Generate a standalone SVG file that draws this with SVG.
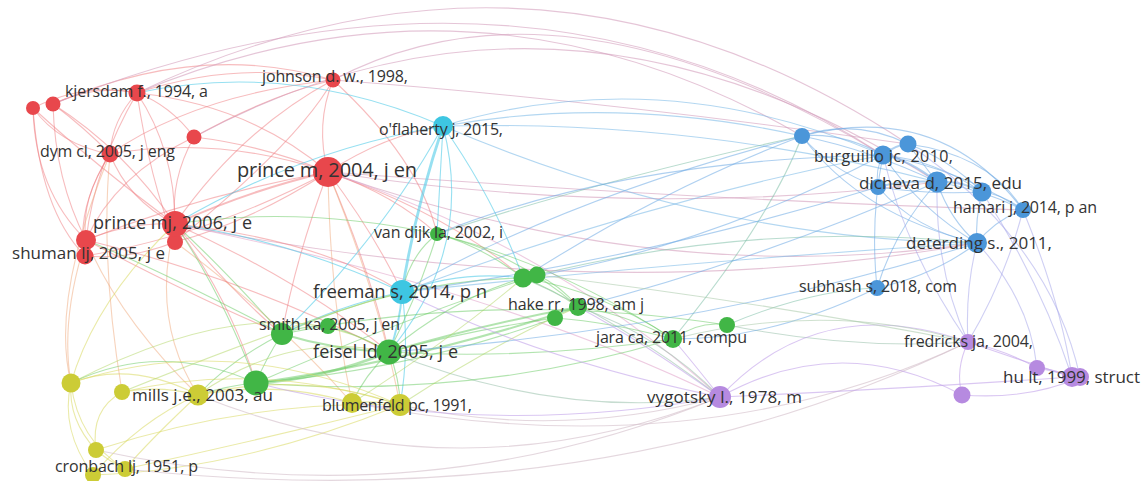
<svg xmlns="http://www.w3.org/2000/svg" width="1145" height="481" viewBox="0 0 1145 481">
<style>
#connectors path{fill:none;stroke-width:1.1;stroke-linecap:round}
.er{stroke:#f07a7d;stroke-opacity:.5}
.erb{stroke:#d49fbd;stroke-opacity:.6}
.erp{stroke:#e0a0c8;stroke-opacity:.55}
.ery{stroke:#f0a87a;stroke-opacity:.5}
.ec{stroke:#52cce8;stroke-opacity:.6}
.ecb{stroke:#74b6e6;stroke-opacity:.55}
.eg{stroke:#66c960;stroke-opacity:.5}
.egb{stroke:#80bfa8;stroke-opacity:.55}
.egp{stroke:#a0c4b0;stroke-opacity:.6}
.ey{stroke:#d8d860;stroke-opacity:.55}
.eyp{stroke:#d6c2cc;stroke-opacity:.65}
.eyg{stroke:#b0d660;stroke-opacity:.5}
.eb{stroke:#6eaae4;stroke-opacity:.55}
.ebp{stroke:#a8a8ea;stroke-opacity:.55}
.ep{stroke:#c2a2ea;stroke-opacity:.6}
.epg{stroke:#a8c8a8;stroke-opacity:.55}
#connectors .t2{stroke-width:2}
#connectors .t3{stroke-width:2.8}
.nr{fill:#e8474c}.nc{fill:#3ec6e2}.ng{fill:#41b646}.ny{fill:#cccc36}.nb{fill:#4b96d9}.np{fill:#b68ae0}
text{font-family:"Open Sans","DejaVu Sans",sans-serif;fill:#333;font-size:16px}
</style>
<rect width="1145" height="481" fill="#fff"/>
<g id="connectors">
<path class="er" d="M33,108 Q85,82 137,93"/>
<path class="er" d="M53,104 Q95,84 137,93"/>
<path class="er" d="M33,108 Q60,145 110,154"/>
<path class="er" d="M53,104 Q85,128 110,154"/>
<path class="er" d="M33,108 Q35,190 86,240"/>
<path class="er" d="M53,104 Q55,180 86,240"/>
<path class="er" d="M33,108 Q95,165 175,224"/>
<path class="er" d="M53,104 Q125,150 175,224"/>
<path class="er" d="M33,108 Q40,210 85,256"/>
<path class="er" d="M137,93 Q112,120 110,154"/>
<path class="er" d="M137,93 Q175,150 175,224"/>
<path class="er" d="M137,93 Q250,105 328,172"/>
<path class="er" d="M137,93 Q235,60 333,80"/>
<path class="er" d="M137,93 Q170,105 194,137"/>
<path class="er" d="M137,93 Q95,165 86,240"/>
<path class="er" d="M137,93 Q150,180 175,242"/>
<path class="er" d="M333,80 Q315,125 328,172"/>
<path class="er" d="M333,80 Q240,130 175,224"/>
<path class="er" d="M333,80 Q195,95 110,154"/>
<path class="er" d="M194,137 Q262,145 328,172"/>
<path class="er" d="M194,137 Q170,180 175,224"/>
<path class="er" d="M194,137 Q115,175 86,240"/>
<path class="er" d="M110,154 Q128,200 175,224"/>
<path class="er" d="M110,154 Q220,135 328,172"/>
<path class="er" d="M110,154 Q80,200 86,240"/>
<path class="er" d="M110,154 Q75,210 85,256"/>
<path class="er t2" d="M328,172 Q250,190 175,224"/>
<path class="er" d="M328,172 Q250,222 175,242"/>
<path class="er" d="M328,172 Q200,195 86,240"/>
<path class="er" d="M328,172 Q210,235 85,256"/>
<path class="er" d="M175,224 Q130,222 86,240"/>
<path class="er" d="M175,242 Q130,260 85,256"/>
<path class="er" d="M194,137 Q270,95 333,80"/>
<path class="er" d="M333,80 Q300,140 175,242"/>
<path class="er" d="M53,104 Q200,40 333,80"/>
<path class="er" d="M328,172 Q385,135 443,126"/>
<path class="er" d="M328,172 Q375,235 402,292"/>
<path class="er" d="M328,172 Q370,270 389,352"/>
<path class="er" d="M328,172 Q295,260 282,334"/>
<path class="er" d="M328,172 Q395,195 437,234"/>
<path class="ery" d="M328,172 Q330,300 352,403"/>
<path class="ery" d="M328,172 Q380,300 400,405"/>
<path class="er" d="M328,172 Q450,215 523,278"/>
<path class="erb" d="M328,172 Q660,290 977,243"/>
<path class="erb" d="M328,172 Q640,220 937,182"/>
<path class="erb" d="M175,224 Q600,310 977,243"/>
<path class="erp" d="M328,172 Q560,250 720,397"/>
<path class="erp" d="M175,224 Q500,290 720,397"/>
<path class="erb" d="M137,93 Q540,-100 908,144"/>
<path class="erb" d="M333,80 Q560,-40 883,155"/>
<path class="erb" d="M137,93 Q480,-50 802,136"/>
<path class="erb" d="M194,137 Q560,-60 937,182"/>
<path class="erb" d="M53,104 Q520,-80 883,155"/>
<path class="erb" d="M908,144 Q600,100 333,80"/>
<path class="erb" d="M1023,210 Q700,200 328,172"/>
<path class="er" d="M175,224 Q240,300 282,334"/>
<path class="er" d="M86,240 Q200,300 282,334"/>
<path class="er" d="M175,224 Q230,300 256,383"/>
<path class="ery" d="M175,224 Q150,320 198,395"/>
<path class="ery" d="M86,240 Q120,320 198,395"/>
<path class="ery" d="M175,242 Q280,320 352,403"/>
<path class="ery" d="M86,240 Q60,320 71,383"/>
<path class="ery" d="M110,154 Q50,300 71,383"/>
<path class="er" d="M175,224 Q300,280 389,352"/>
<path class="er" d="M86,240 Q250,280 389,352"/>
<path class="er" d="M175,224 Q320,240 402,292"/>
<path class="er" d="M333,80 Q420,160 437,234"/>
<path class="ec t3" d="M443,126 Q415,210 402,292"/>
<path class="ec" d="M443,126 Q475,250 389,352"/>
<path class="ec" d="M443,126 Q495,200 523,278"/>
<path class="ecb" d="M443,126 Q620,95 802,136"/>
<path class="ecb" d="M443,126 Q660,60 883,155"/>
<path class="ecb" d="M443,126 Q700,120 937,182"/>
<path class="ecb" d="M443,126 Q710,240 977,243"/>
<path class="ec" d="M443,126 Q290,60 137,93"/>
<path class="ec" d="M443,126 Q300,150 175,224"/>
<path class="ec" d="M443,126 Q380,240 282,334"/>
<path class="ec" d="M443,126 Q440,180 437,234"/>
<path class="ec t2" d="M402,292 Q400,325 389,352"/>
<path class="ec" d="M402,292 Q340,305 282,334"/>
<path class="ec" d="M402,292 Q290,240 175,224"/>
<path class="ec" d="M402,292 Q460,270 523,278"/>
<path class="ecb" d="M402,292 Q700,260 977,243"/>
<path class="ec" d="M402,292 Q410,350 400,405"/>
<path class="ecb" d="M402,292 Q650,200 883,155"/>
<path class="eg" d="M437,234 Q480,245 523,278"/>
<path class="eg" d="M437,234 Q410,255 402,292"/>
<path class="eg" d="M437,234 Q420,290 389,352"/>
<path class="eg" d="M437,234 Q520,255 578,307"/>
<path class="eg" d="M437,234 Q300,205 175,224"/>
<path class="eg" d="M437,234 Q560,265 673,339"/>
<path class="eg" d="M523,278 Q450,300 389,352"/>
<path class="eg" d="M523,278 Q400,280 282,334"/>
<path class="eg" d="M523,278 Q555,290 578,307"/>
<path class="eg" d="M523,278 Q600,290 673,339"/>
<path class="eg" d="M537,275 Q560,285 578,307"/>
<path class="egb" d="M537,275 Q760,220 977,243"/>
<path class="eg" d="M537,275 Q400,320 256,383"/>
<path class="eg t2" d="M578,307 Q480,325 389,352"/>
<path class="eg" d="M578,307 Q620,312 673,339"/>
<path class="eg t2" d="M578,307 Q420,360 256,383"/>
<path class="eg" d="M555,318 Q470,330 389,352"/>
<path class="eg" d="M555,318 Q410,370 256,383"/>
<path class="eg" d="M555,318 Q610,322 673,339"/>
<path class="eg" d="M673,339 Q700,320 727,325"/>
<path class="egb" d="M673,339 Q770,220 802,136"/>
<path class="egb" d="M727,325 Q810,290 877,288"/>
<path class="eg t2" d="M282,334 Q335,350 389,352"/>
<path class="eg" d="M282,334 Q305,325 328,326"/>
<path class="eg" d="M282,334 Q265,360 256,383"/>
<path class="eg" d="M282,334 Q230,360 198,395"/>
<path class="eg" d="M282,334 Q225,270 175,224"/>
<path class="eg" d="M282,334 Q160,270 86,240"/>
<path class="eg" d="M328,326 Q360,335 389,352"/>
<path class="eg t3" d="M389,352 Q320,380 256,383"/>
<path class="eg" d="M389,352 Q400,380 400,405"/>
<path class="eg" d="M389,352 Q365,375 352,403"/>
<path class="egp" d="M389,352 Q560,420 720,397"/>
<path class="eg" d="M256,383 Q230,385 198,395"/>
<path class="eg" d="M256,383 Q160,340 71,383"/>
<path class="eg" d="M256,383 Q220,290 175,224"/>
<path class="eg" d="M389,352 Q530,360 673,339"/>
<path class="eg" d="M256,383 Q470,400 673,339"/>
<path class="egp" d="M523,278 Q620,320 720,397"/>
<path class="egp" d="M578,307 Q660,335 720,397"/>
<path class="egb" d="M437,234 Q600,180 802,136"/>
<path class="eg" d="M282,334 Q500,290 727,325"/>
<path class="egp" d="M727,325 Q850,350 968,342"/>
<path class="ey" d="M71,383 Q130,360 198,395"/>
<path class="ey" d="M71,383 Q68,420 96,450"/>
<path class="ey" d="M71,383 Q78,440 125,469"/>
<path class="ey" d="M71,383 Q230,330 400,405"/>
<path class="ey" d="M71,383 Q95,300 175,224"/>
<path class="ey" d="M122,392 Q160,385 198,395"/>
<path class="ey" d="M122,392 Q260,360 400,405"/>
<path class="ery" d="M122,392 Q100,260 110,154"/>
<path class="ey" d="M198,395 Q300,370 400,405"/>
<path class="ey" d="M198,395 Q280,380 352,403"/>
<path class="ey" d="M198,395 Q150,440 125,469"/>
<path class="ey" d="M352,403 Q376,400 400,405"/>
<path class="ey" d="M96,450 Q110,462 125,469"/>
<path class="ey" d="M96,450 Q90,410 122,392"/>
<path class="ey" d="M96,450 Q250,400 400,405"/>
<path class="ey" d="M125,469 Q260,440 400,405"/>
<path class="ey" d="M93,475 Q140,420 198,395"/>
<path class="ey" d="M93,475 Q240,470 400,405"/>
<path class="ey" d="M93,475 Q60,430 71,383"/>
<path class="eyp" d="M400,405 Q560,440 720,397"/>
<path class="eyp" d="M198,395 Q460,500 720,397"/>
<path class="eyp" d="M125,469 Q600,520 968,342"/>
<path class="eyp" d="M352,403 Q700,470 968,342"/>
<path class="eyp" d="M96,450 Q420,520 720,397"/>
<path class="eyg" d="M71,383 Q270,280 389,352"/>
<path class="eyg" d="M122,392 Q300,320 402,292"/>
<path class="eyg" d="M198,395 Q290,330 389,352"/>
<path class="eyg" d="M352,403 Q450,340 523,278"/>
<path class="eyg" d="M400,405 Q500,340 578,307"/>
<path class="eb" d="M802,136 Q842,132 883,155"/>
<path class="eb" d="M802,136 Q855,118 908,144"/>
<path class="eb" d="M802,136 Q870,150 937,182"/>
<path class="eb" d="M802,136 Q940,100 1023,210"/>
<path class="eb" d="M802,136 Q860,215 977,243"/>
<path class="eb" d="M802,136 Q830,170 878,187"/>
<path class="eb t2" d="M883,155 Q895,145 908,144"/>
<path class="eb t2" d="M883,155 Q910,160 937,182"/>
<path class="eb" d="M883,155 Q935,160 982,192"/>
<path class="eb" d="M883,155 Q960,170 1023,210"/>
<path class="eb" d="M883,155 Q920,210 977,243"/>
<path class="eb" d="M883,155 Q875,170 878,187"/>
<path class="eb" d="M908,144 Q950,160 982,192"/>
<path class="eb" d="M908,144 Q990,155 1023,210"/>
<path class="eb" d="M908,144 Q920,160 937,182"/>
<path class="eb t2" d="M878,187 Q905,180 937,182"/>
<path class="eb" d="M878,187 Q930,195 982,192"/>
<path class="eb" d="M878,187 Q915,230 977,243"/>
<path class="eb t2" d="M937,182 Q960,180 982,192"/>
<path class="eb" d="M937,182 Q985,190 1023,210"/>
<path class="eb" d="M937,182 Q950,220 977,243"/>
<path class="eb" d="M982,192 Q1005,195 1023,210"/>
<path class="eb" d="M982,192 Q975,220 977,243"/>
<path class="eb" d="M1023,210 Q995,220 977,243"/>
<path class="eb" d="M877,288 Q935,275 977,243"/>
<path class="eb" d="M877,288 Q895,230 937,182"/>
<path class="eb" d="M877,288 Q870,220 883,155"/>
<path class="ebp" d="M977,243 Q965,290 968,342"/>
<path class="ebp" d="M1023,210 Q1005,280 968,342"/>
<path class="ebp" d="M1023,210 Q1060,300 1072,377"/>
<path class="ebp" d="M982,192 Q1040,280 1072,377"/>
<path class="ebp" d="M937,182 Q935,270 968,342"/>
<path class="ebp" d="M977,243 Q1030,300 1037,368"/>
<path class="ebp" d="M883,155 Q905,250 968,342"/>
<path class="ebp" d="M908,144 Q1050,240 1080,377"/>
<path class="eb" d="M802,136 Q660,190 523,278"/>
<path class="eb" d="M883,155 Q700,250 523,278"/>
<path class="eb" d="M878,187 Q640,260 402,292"/>
<path class="eb" d="M937,182 Q760,260 578,307"/>
<path class="eb" d="M877,288 Q770,340 673,339"/>
<path class="eb" d="M977,243 Q700,330 389,352"/>
<path class="eb" d="M802,136 Q560,200 402,292"/>
<path class="eb" d="M883,155 Q620,160 437,234"/>
<path class="ep" d="M720,397 Q820,290 968,342"/>
<path class="ep" d="M720,397 Q880,390 1072,377"/>
<path class="ep" d="M720,397 Q840,330 962,395"/>
<path class="ep" d="M720,397 Q695,365 673,339"/>
<path class="ep" d="M720,397 Q640,340 578,307"/>
<path class="ep" d="M720,397 Q540,360 402,292"/>
<path class="ep" d="M720,397 Q480,440 256,383"/>
<path class="ep" d="M968,342 Q1005,350 1037,368"/>
<path class="ep" d="M968,342 Q1020,360 1072,377"/>
<path class="ep" d="M968,342 Q955,370 962,395"/>
<path class="ep t2" d="M1037,368 Q1055,370 1072,377"/>
<path class="ep" d="M962,395 Q1030,400 1080,377"/>
<path class="epg" d="M968,342 Q830,300 673,339"/>
<path class="epg" d="M968,342 Q750,300 537,275"/>
</g>
<g id="n-r1"><circle class="nr" cx="33" cy="108" r="7"/></g>
<g id="n-r2"><circle class="nr" cx="53" cy="104" r="7.5"/></g>
<g id="n-johnson"><circle class="nr" cx="333" cy="80" r="7.5"/><text x="262" y="82" textLength="146">johnson d. w., 1998,</text></g>
<g id="n-r5"><circle class="nr" cx="194" cy="137" r="7.5"/></g>
<g id="n-kjersdam"><circle class="nr" cx="137" cy="93" r="8.5"/><text x="65" y="97" textLength="143">kjersdam f., 1994, a</text></g>
<g id="n-dym"><circle class="nr" cx="110" cy="154" r="8.5"/><text x="40" y="157" textLength="135">dym cl, 2005, j eng</text></g>
<g id="n-prince-m"><circle class="nr" cx="328" cy="172" r="15"/><text x="237" y="177" style="font-size:20px" textLength="180">prince m, 2004, j en</text></g>
<g id="n-r9"><circle class="nr" cx="175" cy="242" r="8"/></g>
<g id="n-prince-mj"><circle class="nr" cx="175" cy="224" r="13"/><text x="93" y="229" style="font-size:18px" textLength="159">prince mj, 2006, j e</text></g>
<g id="n-r11"><circle class="nr" cx="85" cy="256" r="8.5"/></g>
<g id="n-shuman"><circle class="nr" cx="86" cy="240" r="10"/><text x="12" y="259" style="font-size:17px" textLength="153">shuman lj, 2005, j e</text></g>
<g id="n-oflaherty"><circle class="nc" cx="443" cy="126" r="10"/><text x="379" y="135" textLength="124">o'flaherty j, 2015,</text></g>
<g id="n-vandijk"><circle class="ng" cx="437" cy="234" r="7"/><text x="374" y="238" textLength="129">van dijk la, 2002, i</text></g>
<g id="n-g2"><circle class="ng" cx="523" cy="278" r="9.5"/></g>
<g id="n-g3"><circle class="ng" cx="537" cy="275" r="8.5"/></g>
<g id="n-g5"><circle class="ng" cx="555" cy="318" r="8"/></g>
<g id="n-hake"><circle class="ng" cx="578" cy="307" r="9"/><text x="508" y="310" textLength="136">hake rr, 1998, am j</text></g>
<g id="n-g7"><circle class="ng" cx="727" cy="325" r="8"/></g>
<g id="n-jara"><circle class="ng" cx="673" cy="339" r="9"/><text x="596" y="343" textLength="151">jara ca, 2011, compu</text></g>
<g id="n-g11"><circle class="ng" cx="256" cy="383" r="12.5"/></g>
<g id="n-g9"><circle class="ng" cx="328" cy="326" r="8"/></g>
<g id="n-smith"><circle class="ng" cx="282" cy="334" r="11"/><text x="259" y="330" textLength="141">smith ka, 2005, j en</text></g>
<g id="n-freeman"><circle class="nc" cx="402" cy="292" r="12"/><text x="313" y="298" style="font-size:18.5px" textLength="174">freeman s, 2014, p n</text></g>
<g id="n-feisel"><circle class="ng" cx="389" cy="352" r="12.5"/><text x="313" y="358" style="font-size:18px" textLength="145">feisel ld, 2005, j e</text></g>
<g id="n-y1"><circle class="ny" cx="71" cy="383" r="9.5"/></g>
<g id="n-y2"><circle class="ny" cx="122" cy="392" r="8"/></g>
<g id="n-mills"><circle class="ny" cx="198" cy="395" r="10.5"/><text x="132" y="401" style="font-size:17px" textLength="141">mills j.e., 2003, au</text></g>
<g id="n-y5"><circle class="ny" cx="400" cy="405" r="11"/></g>
<g id="n-blumenfeld"><circle class="ny" cx="352" cy="403" r="10"/><text x="322" y="411" textLength="150">blumenfeld pc, 1991,</text></g>
<g id="n-y6"><circle class="ny" cx="96" cy="450" r="8"/></g>
<g id="n-y8"><circle class="ny" cx="93" cy="475" r="8"/></g>
<g id="n-cronbach"><circle class="ny" cx="125" cy="469" r="8"/><text x="55" y="472" textLength="143">cronbach lj, 1951, p</text></g>
<g id="n-b1"><circle class="nb" cx="802" cy="136" r="8"/></g>
<g id="n-b3"><circle class="nb" cx="908" cy="144" r="8.5"/></g>
<g id="n-burguillo"><circle class="nb" cx="883" cy="155" r="9.5"/><text x="814" y="162" textLength="139">burguillo jc, 2010,</text></g>
<g id="n-b4"><circle class="nb" cx="878" cy="187" r="8"/></g>
<g id="n-b6"><circle class="nb" cx="982" cy="192" r="9.5"/></g>
<g id="n-dicheva"><circle class="nb" cx="937" cy="182" r="10.5"/><text x="859" y="189" style="font-size:17px" textLength="163">dicheva d, 2015, edu</text></g>
<g id="n-hamari"><circle class="nb" cx="1023" cy="210" r="8"/><text x="953" y="213" textLength="144">hamari j, 2014, p an</text></g>
<g id="n-deterding"><circle class="nb" cx="977" cy="243" r="10"/><text x="906" y="249" style="font-size:17px" textLength="146">deterding s., 2011,</text></g>
<g id="n-subhash"><circle class="nb" cx="877" cy="288" r="8"/><text x="799" y="292" textLength="158">subhash s, 2018, com</text></g>
<g id="n-fredricks"><circle class="np" cx="968" cy="342" r="8"/><text x="904" y="347" textLength="129">fredricks ja, 2004,</text></g>
<g id="n-p2"><circle class="np" cx="1037" cy="368" r="8"/></g>
<g id="n-p5"><circle class="np" cx="962" cy="395" r="8.5"/></g>
<g id="n-hult"><circle class="np" cx="1072" cy="377" r="10"/><circle class="np" cx="1080" cy="377" r="9"/><text x="1003" y="383" style="font-size:17px" textLength="137">hu lt, 1999, struct</text></g>
<g id="n-vygotsky"><circle class="np" cx="720" cy="397" r="11"/><text x="647" y="403" style="font-size:17px" textLength="155">vygotsky l., 1978, m</text></g>
</svg>
